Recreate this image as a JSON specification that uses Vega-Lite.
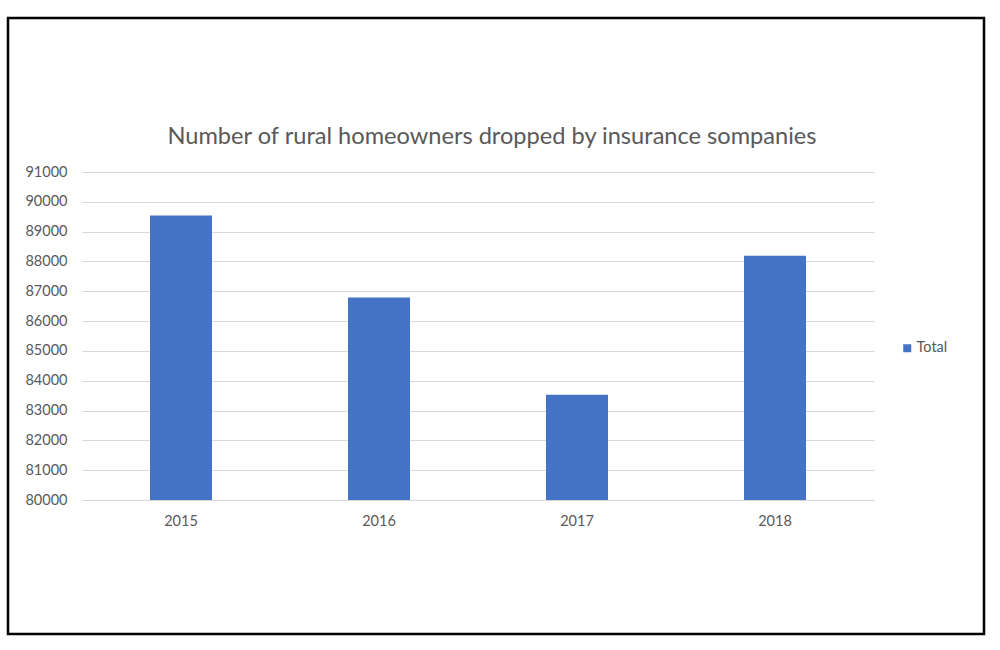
{
  "$schema": "https://vega.github.io/schema/vega-lite/v6.json",
  "autosize": "none",
  "width": 976,
  "height": 616,
  "padding": {"left": 8, "top": 18, "right": 16, "bottom": 16},
  "background": "white",
  "title": {
    "text": "Number of rural homeowners dropped by insurance sompanies",
    "font": "Lato",
    "fontSize": 23.6,
    "fontWeight": "normal",
    "color": "#595959",
    "anchor": "middle",
    "frame": "group",
    "baseline": "alphabetic",
    "offset": -150,
    "dx": -4
  },
  "data": {
    "values": [
      {"year": "2015", "value": 89540, "series": "Total"},
      {"year": "2016", "value": 86790, "series": "Total"},
      {"year": "2017", "value": 83530, "series": "Total"},
      {"year": "2018", "value": 88190, "series": "Total"}
    ]
  },
  "mark": {"type": "bar", "size": 62},
  "encoding": {
    "x": {
      "field": "year",
      "type": "ordinal",
      "scale": {"range": [74, 866], "paddingInner": 0, "paddingOuter": 0},
      "axis": {
        "orient": "bottom",
        "offset": -134,
        "title": null,
        "labelAngle": 0,
        "domain": true,
        "domainColor": "#d9d9d9",
        "domainWidth": 1,
        "ticks": false,
        "grid": false,
        "labelPadding": 14,
        "labelFont": "Lato",
        "labelFontSize": 14.5,
        "labelColor": "#595959"
      }
    },
    "y": {
      "field": "value",
      "type": "quantitative",
      "scale": {"domain": [80000, 91000], "range": [482, 154], "zero": false, "nice": false},
      "axis": {
        "orient": "left",
        "offset": -74,
        "title": null,
        "values": [80000, 81000, 82000, 83000, 84000, 85000, 86000, 87000, 88000, 89000, 90000, 91000],
        "format": "d",
        "domain": false,
        "ticks": false,
        "grid": true,
        "gridColor": "#d9d9d9",
        "gridWidth": 1,
        "labelPadding": 15,
        "labelFont": "Lato",
        "labelFontSize": 14.5,
        "labelColor": "#595959"
      }
    },
    "y2": {"datum": 80000},
    "color": {
      "field": "series",
      "type": "nominal",
      "scale": {"range": ["#4472C4"]},
      "legend": {
        "title": null,
        "orient": "none",
        "legendX": 892,
        "legendY": 323,
        "symbolType": "square",
        "symbolSize": 64,
        "labelFont": "Lato",
        "labelFontSize": 14.5,
        "labelColor": "#595959",
        "labelOffset": 2,
        "padding": 0
      }
    }
  },
  "config": {
    "view": {"stroke": "#000000", "strokeWidth": 2.5}
  }
}
